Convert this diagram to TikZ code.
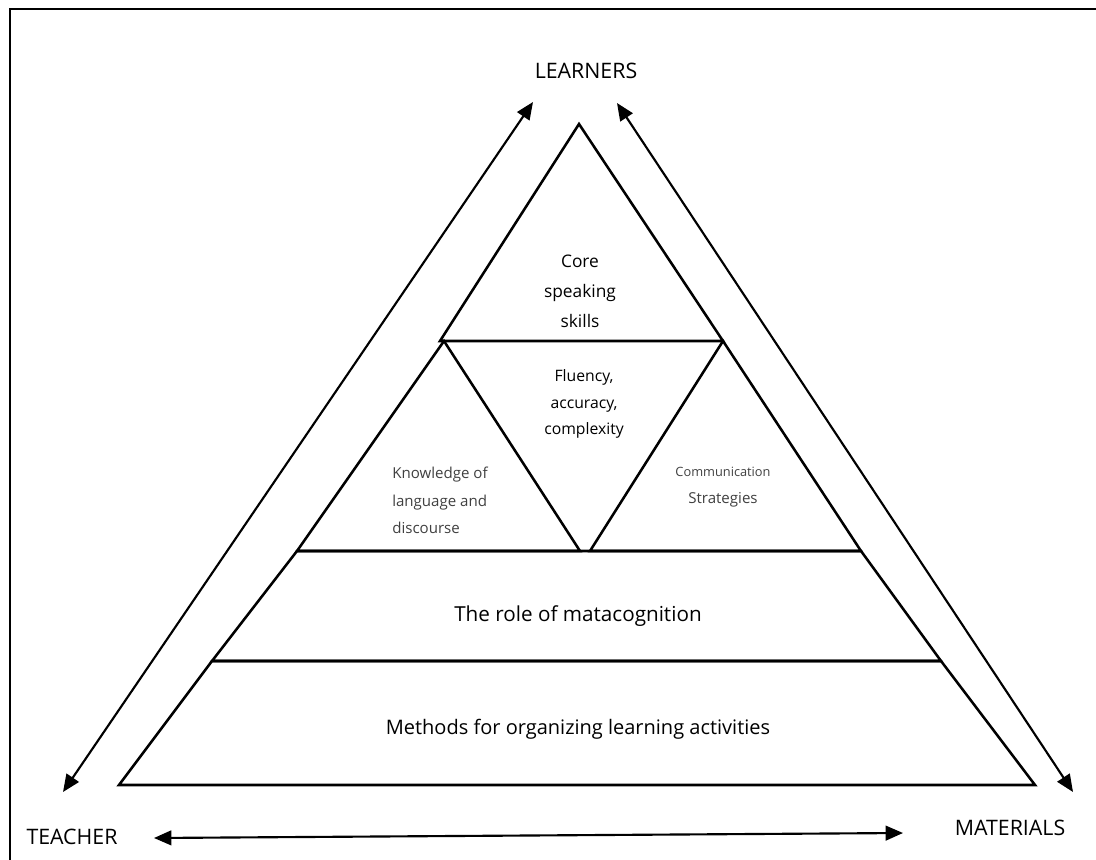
\documentclass[tikz,border=0pt]{standalone}
\usepackage{fontspec}
\setmainfont{Open Sans}
\usetikzlibrary{arrows.meta}

\begin{document}
\begin{tikzpicture}[x=0.75pt, y=-0.75pt, line width=1.9pt,
    every node/.style={inner sep=0pt, align=center, font=\fontsize{13}{22.5}\selectfont},
    corner/.style={font=\fontsize{16}{20}\selectfont},
    level/.style={font=\fontsize{15.5}{20}\selectfont},
    side/.style={font=\fontsize{11.3}{20.6}\selectfont, text=black!75},
    link/.style={{Triangle[length=13pt,width=11pt]}-{Triangle[length=13pt,width=11pt]}, line width=1.6pt}]
      \useasboundingbox (0,0) rectangle (1096,860);
      % Frame
      \draw[line width=1.6pt] (10,860) -- (10,9) -- (1096,9);

      % Corners of the pyramid
      \coordinate (apex) at (579,124);
      \coordinate (coreL) at (440,341);
      \coordinate (coreR) at (723,341);
      \coordinate (knowTop) at (444,341);
      \coordinate (knowL) at (297,551);
      \coordinate (knowR) at (580,551);
      \coordinate (commTop) at (723,341);
      \coordinate (commL) at (590,551);
      \coordinate (commR) at (861,551);
      \coordinate (roleL) at (212,661);
      \coordinate (roleR) at (941,661);
      \coordinate (baseL) at (119,785);
      \coordinate (baseR) at (1035,785);

      % Arrow ends
      \coordinate (teachUp) at (63,792);
      \coordinate (learnL) at (533,102);
      \coordinate (learnR) at (617,103);
      \coordinate (matUp) at (1073,792);
      \coordinate (teachEnd) at (154,838);
      \coordinate (matEnd) at (903,833);

      % Nodes
      \node[corner] (learners) at (586,71) {LEARNERS};
      \node[corner] (teacher) at (72,837) {TEACHER};
      \node[corner] (materials) at (1010,828) {MATERIALS};
      \node (core) at (580,291.7) {Core\\speaking\\skills};
      \node[font=\fontsize{11.8}{20}\selectfont] (fluency) at (584,404) {Fluency,\\accuracy,\\complexity};
      \node[side, anchor=west, align=left] (knowledge) at (391,500.7) {Knowledge of\\language and\\discourse};
      \node[side] (comm) at (723,487) {{\fontsize{9.6}{12}\selectfont Communication}\\Strategies};
      \node[level] (role) at (578,616) {The role of matacognition};
      \node[level, font=\fontsize{15}{20}\selectfont] (methods) at (578,729) {Methods for organizing learning activities};

      % Pyramid
      \draw (apex) -- (coreL) -- (coreR) -- cycle;
      \draw (knowTop) -- (knowL) -- (knowR) -- cycle;
      \draw (commTop) -- (commL) -- (commR) -- cycle;
      \draw (knowL) -- (commR) -- (roleR) -- (roleL) -- cycle;
      \draw (roleL) -- (roleR) -- (baseR) -- (baseL) -- cycle;

      % Edges
      \draw[link] (teachUp) -- (learnL);
      \draw[link] (learnR) -- (matUp);
      \draw[link] (teachEnd) -- (matEnd);
\end{tikzpicture}
\end{document}
